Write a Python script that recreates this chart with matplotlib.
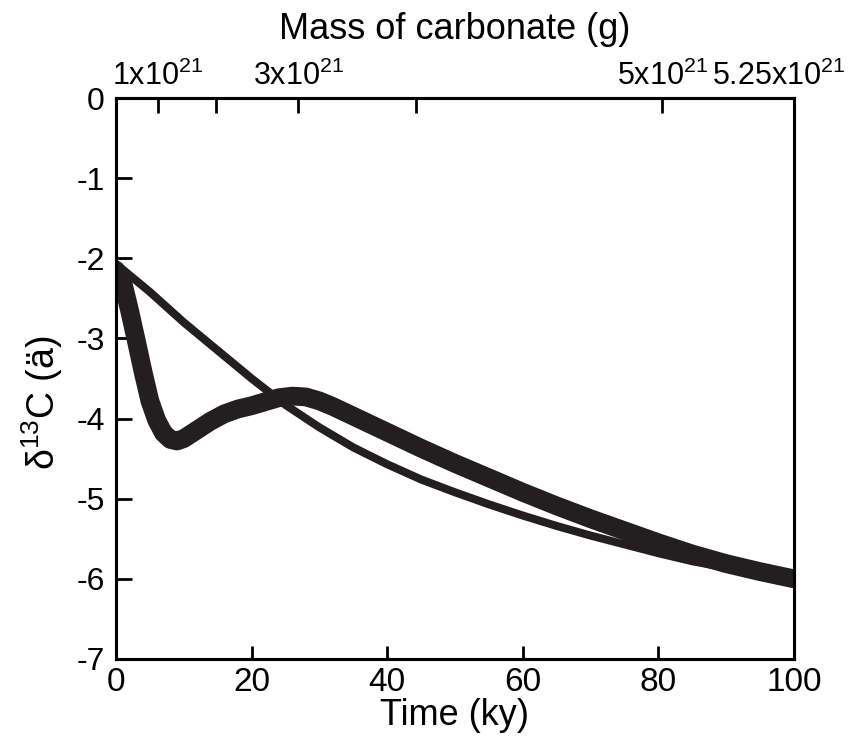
import matplotlib
matplotlib.use("Agg")
import matplotlib.pyplot as plt
from matplotlib.transforms import ScaledTranslation

plt.rcParams['font.family'] = ['Liberation Sans', 'DejaVu Sans']
plt.rcParams['mathtext.fontset'] = 'custom'
plt.rcParams['mathtext.rm'] = 'Liberation Sans'
plt.rcParams['mathtext.it'] = 'Liberation Sans'
plt.rcParams['mathtext.bf'] = 'Liberation Sans'
plt.rcParams['mathtext.default'] = 'rm'

# ---- data ----
time_thin = [0, 5, 10, 15, 20, 25, 30, 35, 40, 45, 50, 55, 60, 65, 70, 75, 80, 85, 90, 95, 100]
d13c_thin = [-2.07, -2.42, -2.80, -3.15, -3.50, -3.83, -4.11, -4.36, -4.57, -4.76, -4.92,
             -5.07, -5.21, -5.34, -5.46, -5.57, -5.68, -5.78, -5.86, -5.93, -6.00]

time_thick = [0, 1, 2, 3, 4, 5, 6, 7, 8, 9, 10, 12, 14, 16, 18, 20, 22, 24, 26, 28, 30, 32,
              35, 40, 45, 50, 55, 60, 65, 70, 75, 80, 85, 90, 95, 100]
d13c_thick = [-2.15, -2.30, -2.65, -3.03, -3.42, -3.78, -4.02, -4.18, -4.26, -4.28, -4.25,
              -4.14, -4.03, -3.94, -3.88, -3.84, -3.79, -3.74, -3.72, -3.73, -3.78, -3.85,
              -3.97, -4.17, -4.37, -4.56, -4.74, -4.92, -5.09, -5.25, -5.40, -5.55, -5.69,
              -5.81, -5.91, -6.00]

x_ticks = [0, 20, 40, 60, 80, 100]
y_ticks = [0, -1, -2, -3, -4, -5, -6, -7]
top_tick_pos = [6.2, 14.8, 26.9, 44.2, 80.6, 100]
top_tick_labels = ['1x10$^{21}$', '', '3x10$^{21}$', '', '5x10$^{21}$', '5.25x10$^{21}$']

ink = '#231f20'

fig = plt.figure(figsize=(8.62, 7.39), dpi=100)
ax = fig.add_axes([116/862, 80/739, (794-116)/862, (659-98)/739])

ax.plot(time_thin, d13c_thin, color=ink, lw=5.8, solid_capstyle='round', solid_joinstyle='round')
ax.plot(time_thick, d13c_thick, color=ink, lw=13.5, solid_capstyle='round', solid_joinstyle='round')

ax.set_xlim(0, 100)
ax.set_ylim(-7, 0)
ax.set_xticks(x_ticks)
ax.set_yticks(y_ticks)
ax.set_yticklabels([str(v) for v in y_ticks])
ax.tick_params(axis='x', direction='in', length=9.5, width=2.0, labelsize=24, pad=6)
ax.tick_params(axis='y', direction='in', length=11.5, width=2.0, labelsize=23, pad=8)
for s in ax.spines.values():
    s.set_linewidth(2.2)
    s.set_color('black')

ax.set_xlabel('Time (ky)', fontsize=26, labelpad=0)

ax2 = ax.twiny()
ax2.set_xlim(0, 100)
ax2.set_xticks(top_tick_pos)
ax2.set_xticklabels(top_tick_labels)
ax2.tick_params(axis='x', direction='in', length=11, width=2.0, labelsize=22, pad=4)
ax2.set_xlabel('Mass of carbonate (g)', fontsize=26, labelpad=16)
for s in ax2.spines.values():
    s.set_linewidth(2.2)

labs = ax2.get_xticklabels()
labs[-1].set_transform(labs[-1].get_transform() + ScaledTranslation(-0.15, 0, fig.dpi_scale_trans))

fig.text(42/862, 1 - 403/739, 'δ$^{13}$C (ä)', rotation=90, fontsize=27,
         ha='center', va='center')

fig.savefig('out.png', dpi=100)
